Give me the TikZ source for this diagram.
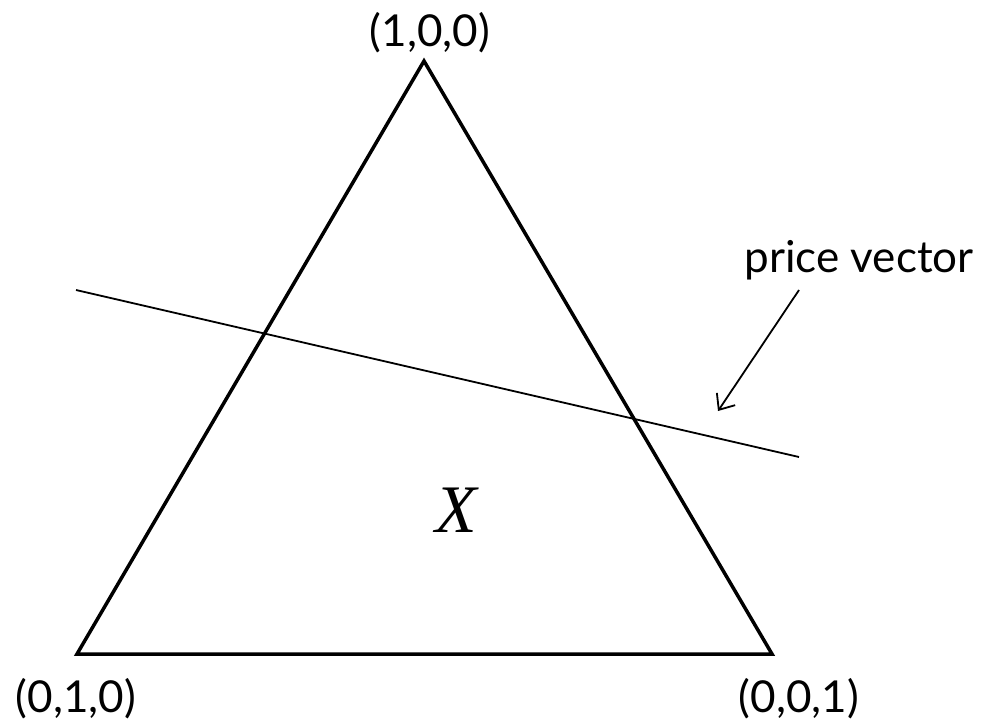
\documentclass[tikz,border=0pt]{standalone}
\usepackage{fontspec}
\setmainfont{Lato}
\newfontfamily\xfont{Liberation Serif}
\usetikzlibrary{arrows.meta}
\begin{document}
\begin{tikzpicture}[x=1pt,y=-1pt,
  thickline/.style={line width=3.5pt,line join=miter},
  thinline/.style={line width=1.8pt},
  lbl/.style={font=\fontsize{44}{48}\selectfont,inner sep=0pt},
  pointer/.style={line width=1.8pt,-{Straight Barb[length=13pt,width=22pt,line width=1.8pt]}}]
\useasboundingbox (0,0) rectangle (984,721);
\coordinate (A) at (424,61);
\coordinate (B) at (77,654);
\coordinate (C) at (772,654);
\draw[thickline] (A) -- (B) -- (C) -- cycle;
\coordinate (p1) at (76,290);
\coordinate (p2) at (799,457);
\draw[thinline] (p1) -- (p2);
\node[lbl] (top) at (430,33) {(1,0,0)};
\node[lbl] (left) at (76,699) {(0,1,0)};
\node[lbl] (right) at (799,699) {(0,0,1)};
\node[lbl] (pv) at (859,260) {price vector};
\coordinate (a1) at (799,290);
\coordinate (a2) at (718,411);
\draw[pointer] (a1) -- (a2);
\node[inner sep=0pt,font=\fontsize{68}{72}\selectfont\xfont\itshape] (X) at (456,510) {X};
\end{tikzpicture}
\end{document}
